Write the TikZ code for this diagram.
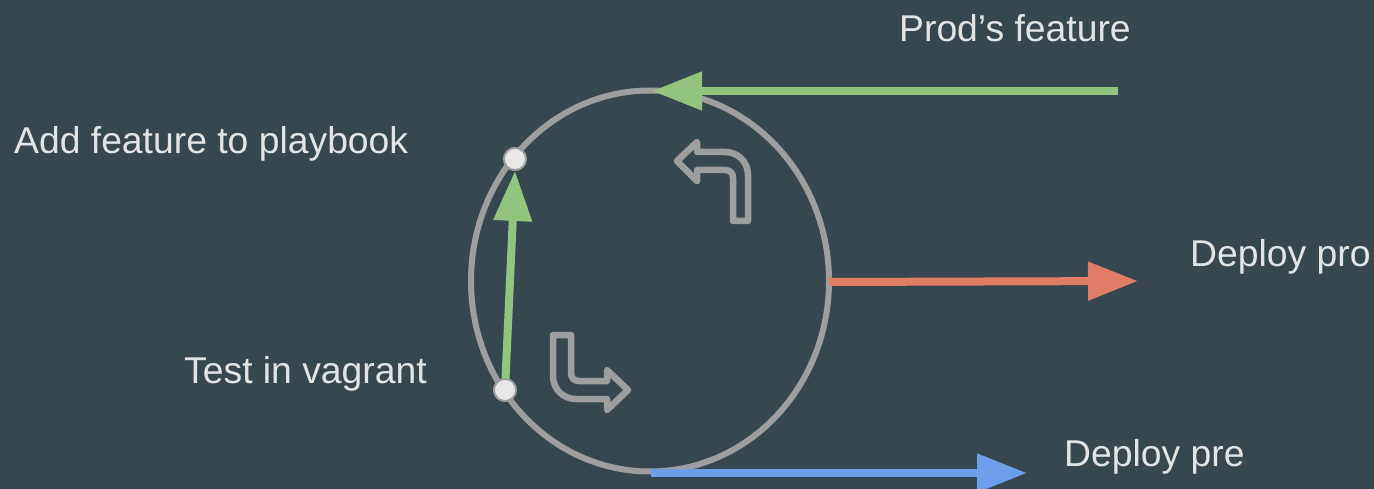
\documentclass[tikz,border=0pt]{standalone}
\usepackage{fontspec}
\setmainfont{Liberation Sans}
\usetikzlibrary{arrows.meta,shapes.geometric}
\definecolor{bgc}{HTML}{37474F}
\definecolor{ringc}{HTML}{9E9E9E}
\definecolor{greenc}{HTML}{93C47D}
\definecolor{redc}{HTML}{E07B66}
\definecolor{bluec}{HTML}{6D9EEB}
\definecolor{txtc}{HTML}{E3E3E3}
\definecolor{dotc}{HTML}{E8E8E8}
\tikzset{
  lbl/.style={anchor=base west, inner sep=0pt, text=txtc, font=\fontsize{37.3}{44}\selectfont},
  flowarrow/.style={line width=8pt, -{Triangle[length=50pt,width=37pt]}},
  icon/.style={draw=ringc, line width=6.5pt, line join=round},
  dotnode/.style={circle, fill=dotc, draw=ringc, line width=1.8pt, minimum size=22pt, inner sep=0pt},
}
\begin{document}
\begin{tikzpicture}[x=1pt,y=-1pt]
\fill[bgc] (0,0) rectangle (1374,489);
\useasboundingbox (0,0) rectangle (1374,489);
% ring
\node (loop) [ellipse, draw=ringc, line width=6pt, minimum width=358pt, minimum height=381pt, inner sep=0pt] at (650,281) {};
% icons
\path[icon] (677,161) -- (697,142) -- (697,152) -- (725,152)
  .. controls (738,152) and (748,162) .. (748,175) -- (748,221) -- (733,221) -- (733,178)
  .. controls (733,173) and (730,170) .. (725,170) -- (697,170) -- (697,181) -- cycle;
\path[icon] (553,335) -- (571,335) -- (571,373)
  .. controls (571,378) and (574,381) .. (579,381) -- (607,381) -- (607,370) -- (628,390)
  -- (607,410) -- (607,399) -- (576,399)
  .. controls (563,399) and (553,389) .. (553,376) -- cycle;
% arrow endpoints
\coordinate (prodstart) at (1118,91);
\coordinate (prodend) at (652,91);
\coordinate (prostart) at (829,282);
\coordinate (proend) at (1138,281);
\coordinate (prestart) at (651,473);
\coordinate (preend) at (1027,473);
\node (vagdot) [dotnode] at (505,390) {};
\node (playdot) [dotnode] at (515,159) {};
% arrows
\draw[flowarrow, draw=greenc, fill=greenc] (prodstart) -- (prodend);
\draw[flowarrow, draw=redc, fill=redc] (prostart) -- (proend);
\draw[flowarrow, draw=bluec, fill=bluec] (prestart) -- (preend);
\draw[flowarrow, draw=greenc, fill=greenc] (vagdot.center) -- (playdot.south);
% dots on top
\node [dotnode] at (vagdot) {};
\node [dotnode] at (playdot) {};
% labels
\node[lbl] (prodtxt) at (899,41.5) {Prod’s feature};
\node[lbl] (addtxt) at (14,153.3) {Add feature to playbook};
\node[lbl] (testtxt) at (184,383.3) {Test in vagrant};
\node[lbl] (protxt) at (1190,266.7) {Deploy pro};
\node[lbl] (pretxt) at (1064,466.7) {Deploy pre};
\end{tikzpicture}
\end{document}
